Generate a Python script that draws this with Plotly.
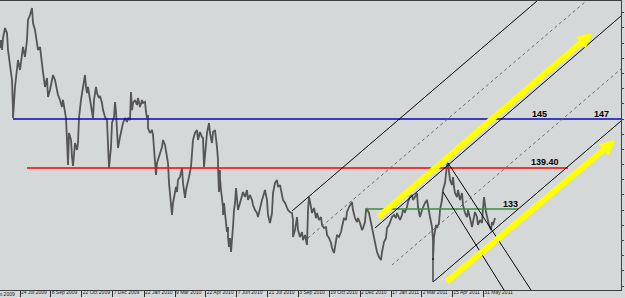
import plotly.graph_objects as go

# ---- price path (bar index ~ trading day, price) ----
bars_1 = [0,1,2,3,5,7,8,10,12,13,13,15,17,18,20,22,23,25,27,28,30,32,33,35,37,38,40,42,43,45,47,48,50,52,53,55,57,58,60,62,63,65,66,67,68,69,71,72,73,75,77,78,79,81,82,84,85,86,87,88,90,92,93,94,96,97,99]
price_1 = [157.12,158.30,156.82,158.60,160.08,159.34,156.82,154.30,152.38,147.93,146.75,151.34,154.30,155.34,153.86,156.38,157.27,155.79,158.30,161.27,162.01,163.05,160.82,159.79,157.86,156.82,157.27,154.30,153.56,151.34,152.67,149.86,150.90,152.38,153.12,152.38,150.90,150.16,149.42,148.38,149.42,147.93,146.75,143.49,139.79,144.53,143.49,140.97,139.64,143.04,142.01,143.04,146.75,149.42,150.45,152.38,153.12,151.34,150.45,151.34,149.42,147.93,146.75,149.42,151.34,150.45,149.71]

bars_2 = [100,102,103,105,107,108,109,111,112,114,115,116,117,118,120,122,123,125,127,128,130,131,132,133,135,137,138,140,142,143,145,146,147,148,148,150,152,153,154,155,156,157,158,160,162,163,165,167,168,169,170,171,172,173,174,175,176,177,178,180,182,183,184,185,186,188,189,191,192,193]
price_2 = [150.01,148.97,147.93,146.90,146.45,143.49,139.34,142.45,146.01,146.90,149.12,147.64,144.97,142.30,143.93,145.42,146.01,146.75,146.16,146.75,146.45,150.60,147.93,148.97,149.42,148.67,149.71,148.38,149.42,148.97,149.12,147.64,146.75,147.19,145.27,144.53,144.97,144.23,142.45,140.97,138.30,140.08,140.53,141.71,142.45,143.49,142.75,140.97,140.08,137.12,135.64,133.56,132.38,134.16,135.04,136.08,136.53,135.79,137.56,138.01,139.34,137.12,136.08,134.90,136.08,137.12,138.01,139.49,141.56,143.49]

bars_3 = [195,197,198,200,202,203,204,206,207,209,210,212,213,215,216,217,218,218,219,220,220,221,222,223,223,224,225,226,227,228,228,229,230,231,232,233,234,235,236,237,238,240,242,243,245,247,248,250,252,253,255,257,258,260,262,263,265,267,268,270,272,273,275,277,278,280,282,283,285,287,288]
price_3 = [144.53,144.97,143.49,144.67,143.93,143.79,139.49,143.49,144.53,146.01,144.53,143.04,144.67,144.97,143.93,142.45,140.53,139.49,135.79,139.04,137.86,136.08,134.60,133.56,132.38,134.16,132.67,131.34,129.86,130.60,129.12,127.64,128.97,126.90,129.71,130.60,133.12,134.16,136.38,134.60,133.12,134.16,135.04,135.79,135.04,136.08,134.60,135.34,134.60,133.86,133.12,132.67,132.08,133.56,134.60,135.04,136.08,134.60,132.38,131.19,132.67,135.64,137.12,137.56,136.53,136.82,135.64,134.60,134.16,133.56,133.12]

bars_4 = [290,292,293,293,295,297,298,300,302,303,305,307,308,309,311,312,314,316,317,319,321,322,324,326,327,329,331,332,334,336,337,339,341,342,344,346,347,349,351,352,353,355,357,358,360,362,363,365,366,367,369,371,372,374,376,377,379,381,382,384,386,387,389,391,392,394,396,397,399]
price_4 = [132.82,132.67,131.64,129.12,130.16,132.08,130.16,129.12,129.86,128.67,129.42,127.93,133.12,135.04,133.56,132.67,133.41,131.93,132.67,131.64,132.08,130.90,130.45,130.60,129.42,128.97,128.23,127.49,126.75,128.23,129.42,129.12,129.86,130.60,131.93,131.64,132.82,133.56,134.16,134.30,133.12,131.93,131.34,131.93,131.19,130.16,130.45,131.34,133.12,133.27,132.67,131.19,130.45,129.42,127.64,126.90,126.16,125.71,126.90,128.38,128.97,130.45,130.90,131.64,132.08,132.38,131.93,132.67,132.08]

bars_5 = [400,402,403,405,407,408,410,412,413,415,417,418,420,422,423,425,427,428,430,432,433,433,434,436,437,439,440,442,443,445,446,447,448,449,450,452,453,454,455,457,458,460,462,463,465,467,468,470,472,473,475,477,478,480,482,483,484,486,487,489,491,492,493,495]
price_5 = [131.64,132.38,133.12,132.82,133.56,134.30,135.04,135.34,134.60,135.04,135.64,133.56,132.08,133.12,133.56,134.16,134.60,133.56,132.08,130.60,128.67,125.71,129.12,130.90,130.45,131.19,133.12,134.60,136.08,137.12,138.60,139.79,140.08,139.04,137.56,136.82,138.01,136.53,135.64,135.04,136.08,134.60,135.64,133.86,132.67,132.08,133.12,131.93,130.60,131.34,132.82,132.08,130.90,131.64,131.19,133.41,135.04,132.82,132.08,130.90,130.16,131.34,130.90,131.93]

bars = bars_1 + bars_2 + bars_3 + bars_4 + bars_5
prices = price_1 + price_2 + price_3 + price_4 + price_5

# ---- time axis labels (bar index of each date label) ----
tick_bars = [20.0, 50.7, 81.7, 112.7, 144.0, 175.0, 205.7, 236.7, 267.7, 298.3, 329.3, 360.0, 391.0, 421.7, 452.3, 483.3]
tick_text = ["24 Jul 2009", "8 Sep 2009", "22 Oct 2009", "7 Dec 2009", "22 Jan 2010", "9 Mar 2010",
             "22 Apr 2010", "7 Jun 2010", "21 Jul 2010", "3 Sep 2010", "19 Oct 2010", "2 Dec 2010",
             "17 Jan 2011", "2 Mar 2011", "15 Apr 2011", "31 May 2011"]
first_label = "9 Jun 2009"

# ---- horizontal levels: (price, from bar, to bar) ----
level_blue = (146.60, 13, 621)
level_red = (139.34, 27, 568)
level_green = (133.27, 365, 518)

# ---- drawn trend lines: (bar0, price0, bar1, price1) ----
trend_solid = [
    (292, 132.97, 537, 164.08),
    (375, 130.45, 621, 161.86),
    (433, 122.45, 621, 146.30),
    (448, 140.08, 531, 121.27),
    (443, 135.79, 504, 121.27),
    (433, 126.01, 433, 122.45),
]
trend_dotted = [
    (308, 128.97, 585, 163.93),
    (392, 124.97, 621, 154.01),
]
yellow_arrows = [
    (377, 131.93, 592, 159.34),
    (445, 122.30, 615, 143.49),
]
level_labels = [("145", 539, 147.34), ("147", 601, 147.34), ("139.40", 545, 140.23), ("133", 510, 134.01)]

y_range = [121.27, 164.08]
x_range = [0, 621]

BG = "#D4D8D8"
fig = go.Figure()

fig.add_trace(go.Scatter(x=bars, y=prices, mode="lines",
                         line=dict(color="#555555", width=1.8), hoverinfo="skip"))

for (p, a, b), col in [(level_blue, "#0A0AB4"), (level_red, "#FF0000"), (level_green, "#3C8C3C")]:
    fig.add_trace(go.Scatter(x=[a, b], y=[p, p], mode="lines",
                             line=dict(color=col, width=1.6), hoverinfo="skip"))

for x0, y0, x1, y1 in trend_dotted:
    fig.add_trace(go.Scatter(x=[x0, x1], y=[y0, y1], mode="lines",
                             line=dict(color="#6A6A6A", width=1, dash="dot"), hoverinfo="skip"))
for x0, y0, x1, y1 in trend_solid:
    fig.add_trace(go.Scatter(x=[x0, x1], y=[y0, y1], mode="lines",
                             line=dict(color="#000000", width=1), hoverinfo="skip"))

annotations = []
for x0, y0, x1, y1 in yellow_arrows:
    annotations.append(dict(x=x1, y=y1, ax=x0, ay=y0, xref="x", yref="y", axref="x", ayref="y",
                            text="", showarrow=True, arrowhead=2, arrowsize=0.5, arrowwidth=6,
                            arrowcolor="#FFFF00", standoff=0, startstandoff=0))
for t, xb, yp in level_labels:
    annotations.append(dict(x=xb, y=yp, xref="x", yref="y", text="<b>%s</b>" % t, showarrow=False,
                            font=dict(family="Arial", size=9, color="#000000")))
annotations.append(dict(x=0, y=0, xref="paper", yref="paper", xanchor="right", yanchor="top",
                        xshift=17, yshift=1, text=first_label, showarrow=False,
                        font=dict(family="Arial", size=5, color="#222222")))

fig.update_layout(
    width=625, height=298,
    margin=dict(l=0, r=4, t=1, b=8, pad=0),
    paper_bgcolor=BG, plot_bgcolor=BG,
    showlegend=False,
    annotations=annotations,
    xaxis=dict(range=x_range, showgrid=False, zeroline=False, showline=True, mirror=True,
               linecolor="#404040", linewidth=1, ticks="outside", ticklen=6, tickcolor="#303030",
               tickvals=tick_bars, ticktext=tick_text, ticklabelposition="outside right",
               tickangle=0, ticklabelstandoff=-3,
               tickfont=dict(family="Arial", size=5, color="#222222")),
    yaxis=dict(range=y_range, side="right", showgrid=False, zeroline=False, showline=True,
               linecolor="#404040", linewidth=1, ticks="outside", ticklen=2, tickcolor="#404040",
               tick0=146.6, dtick=2.25, showticklabels=False),
)

fig.write_html("out.html")
